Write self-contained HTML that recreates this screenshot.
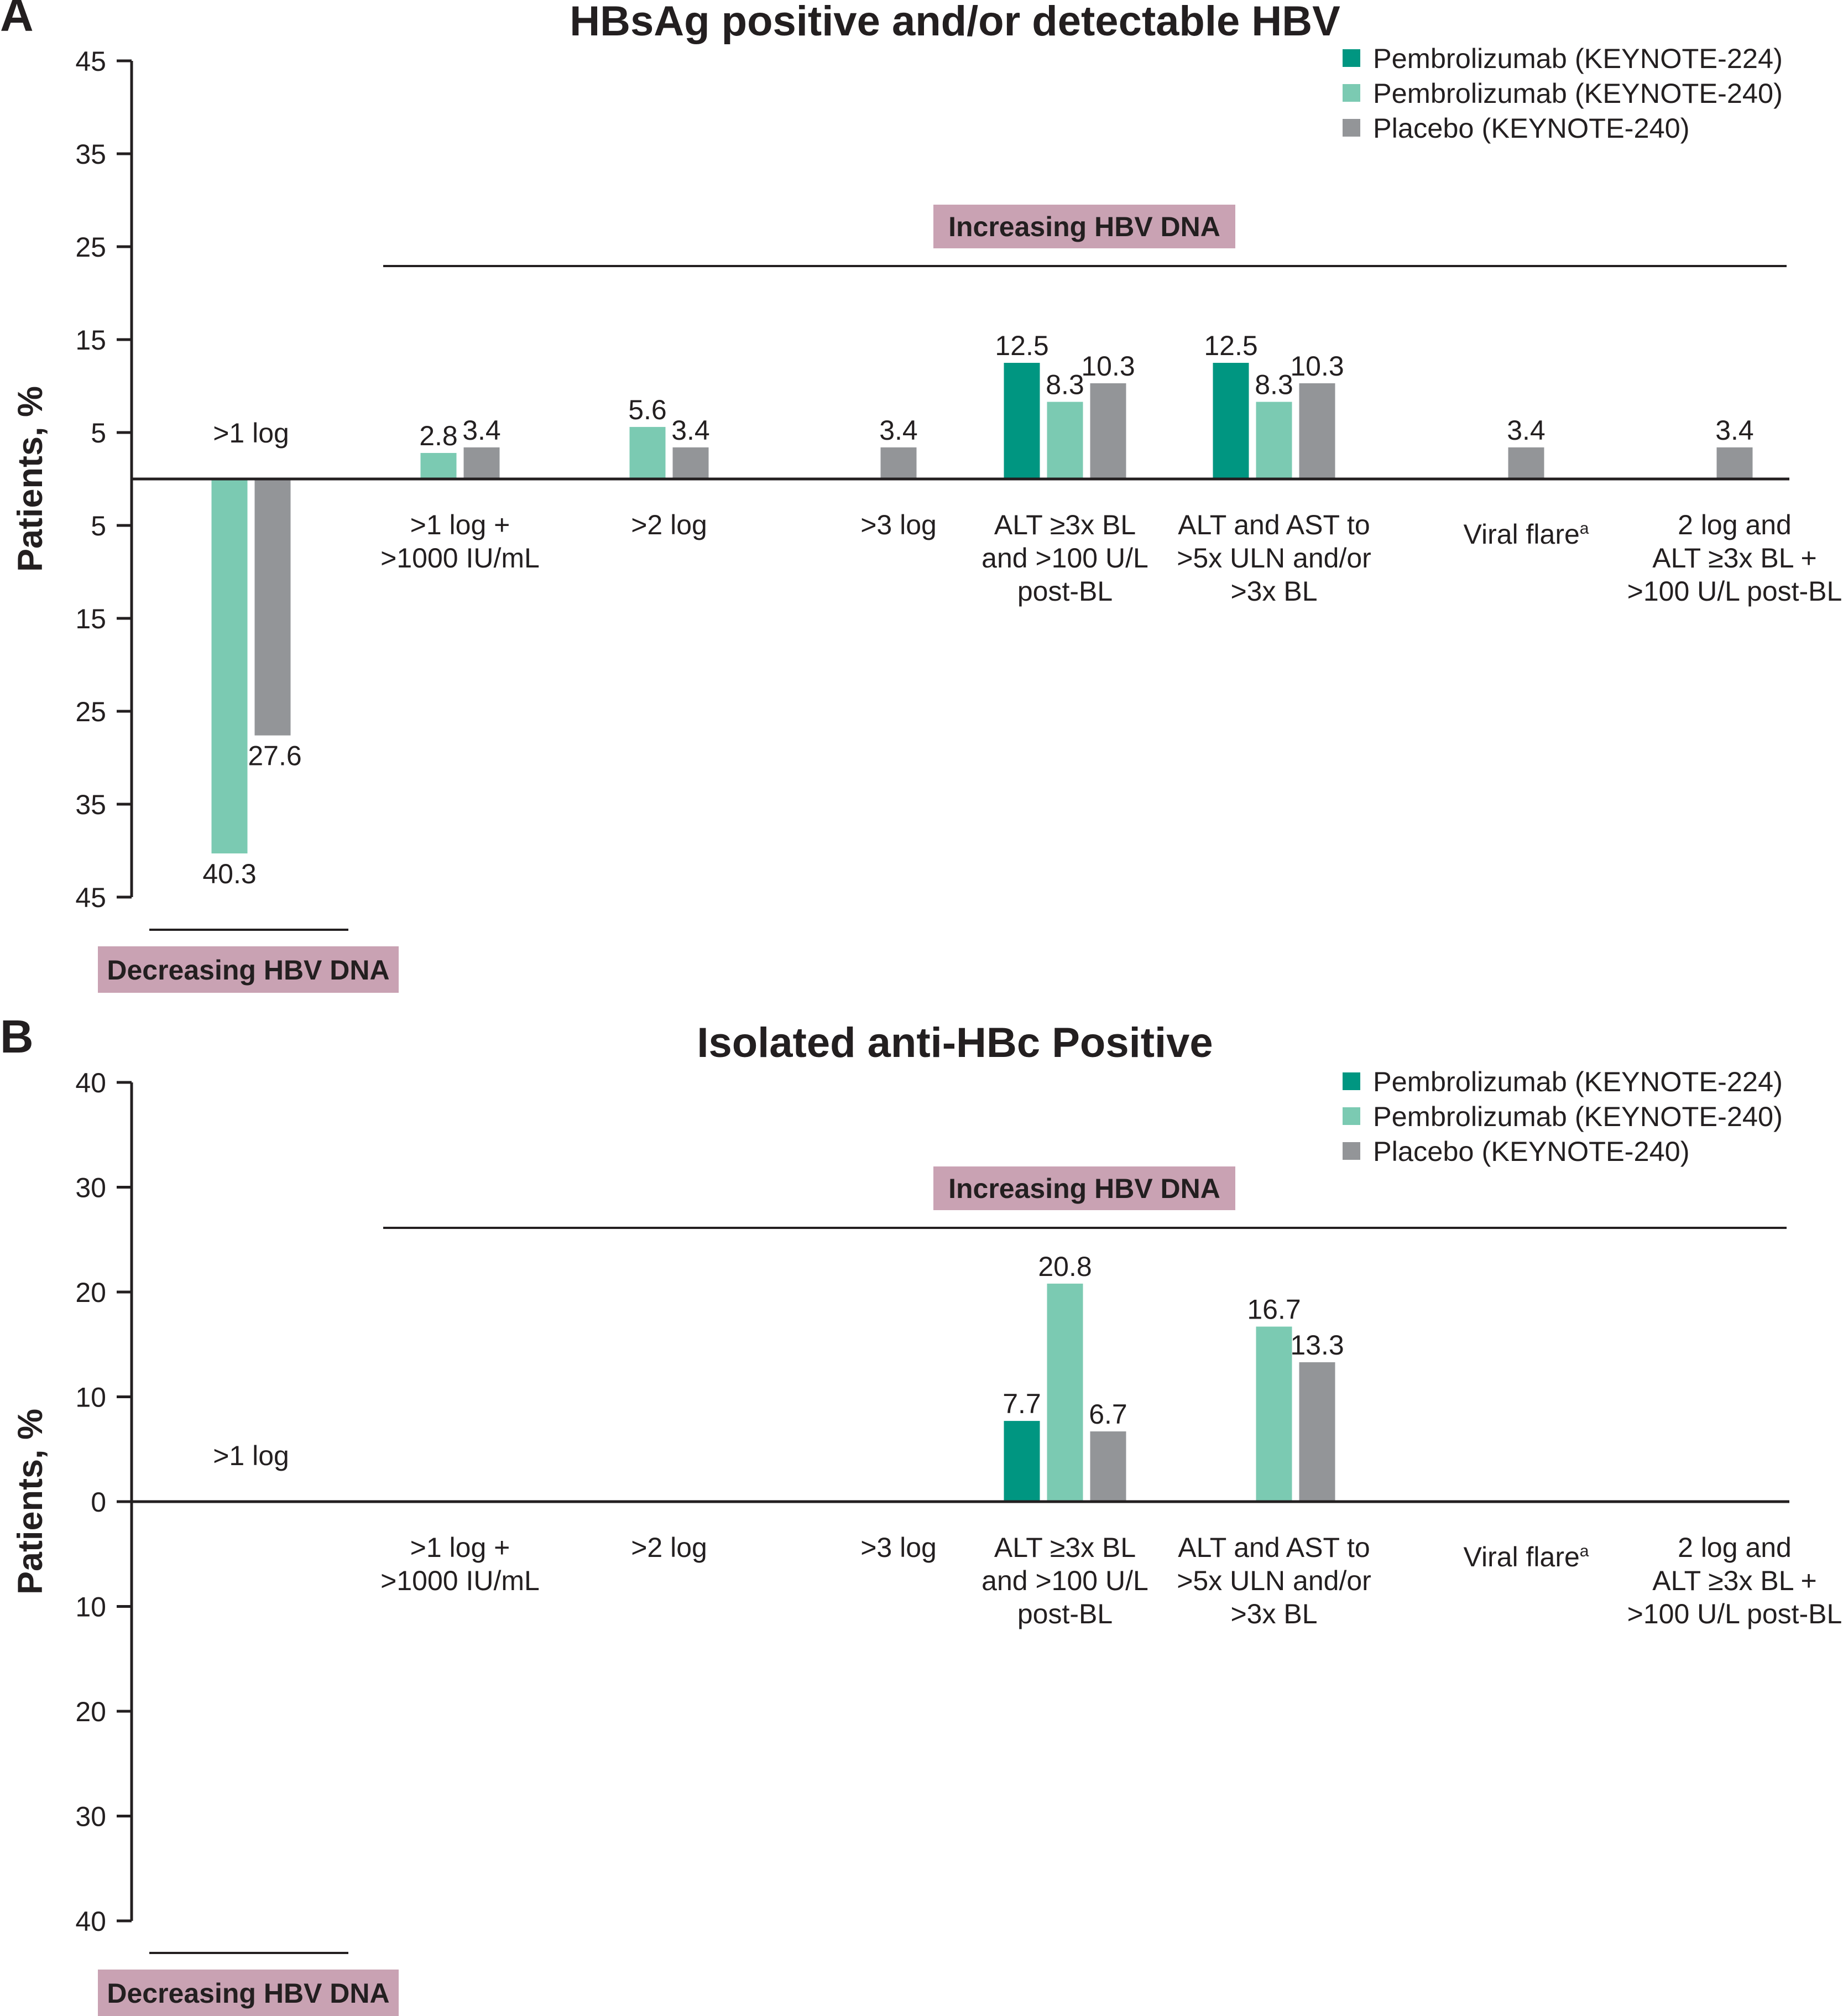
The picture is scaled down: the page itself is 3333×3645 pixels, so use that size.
<!DOCTYPE html>
<html><head><meta charset="utf-8">
<style>
html,body{margin:0;padding:0;background:#fff;}
svg{display:block;font-family:"Liberation Sans",Arial,sans-serif;}
</style></head>
<body>
<svg id="chart" width="3333" height="3645" viewBox="0 0 3333 3645" xmlns="http://www.w3.org/2000/svg"></svg>
<script>
const categories = [[">1 log"], [">1 log +", ">1000 IU/mL"], [">2 log"], [">3 log"], ["ALT \u22653x BL", "and >100 U/L", "post-BL"], ["ALT and AST to", ">5x ULN and/or", ">3x BL"], ["Viral flare"], ["2 log and", "ALT \u22653x BL +", ">100 U/L post-BL"]];
const seriesNames = ["Pembrolizumab (KEYNOTE-224)", "Pembrolizumab (KEYNOTE-240)", "Placebo (KEYNOTE-240)"];
// Panel A (negative = decreasing HBV DNA)
const a224 = [null, null, null, null, 12.5, 12.5, null, null];
const a240 = [-40.3, 2.8, 5.6, null, 8.3, 8.3, null, null];
const aPlacebo = [-27.6, 3.4, 3.4, 3.4, 10.3, 10.3, 3.4, 3.4];
const aTicks = [45, 35, 25, 15, 5, -5, -15, -25, -35, -45];
// Panel B
const b224 = [null, null, null, null, 7.7, null, null, null];
const b240 = [null, null, null, null, 20.8, 16.7, null, null];
const bPlacebo = [null, null, null, null, 6.7, 13.3, null, null];
const bTicks = [40, 30, 20, 10, 0, -10, -20, -30, -40];

const layoutCenters = [454, 832, 1210, 1625, 1926, 2304, 2760, 3137];
const colors = ["#009681", "#7bcab2", "#939598"];
const NS = "http://www.w3.org/2000/svg";
const svg = document.getElementById("chart");
function mk(tag, attrs, parent) {
  const e = document.createElementNS(NS, tag);
  for (const k in attrs) e.setAttribute(k, attrs[k]);
  (parent || svg).appendChild(e);
  return e;
}
function txt(str, attrs, parent) { const t = mk("text", attrs, parent); t.textContent = str; return t; }

function panel(opt) {
  const g = mk("g", {});
  
  
  const y = v => opt.zero - v * opt.unit;
  const L = txt(opt.letter, {x: 0, y: opt.top + 56, "font-size": 84, "font-weight": "bold", fill: "#231f20"}, g);
  
  
  const T = txt(opt.title, {x: 1727, y: opt.top + 64, "font-size": 76, "font-weight": "bold", "text-anchor": "middle", fill: "#231f20"}, g);
  
  
  const top = y(opt.ticks[0]), bot = y(opt.ticks[opt.ticks.length - 1]);
  const ax = mk("line", {x1: 238, x2: 238, y1: top, y2: bot, stroke: "#231f20", "stroke-width": 5}, g);
  
  
  opt.ticks.forEach(t => {
    const tl = mk("line", {x1: 211, x2: 238, y1: y(t), y2: y(t), stroke: "#231f20", "stroke-width": 5}, g);
    
    
    const lb = txt(String(Math.abs(t)), {x: 192, y: y(t) + 18, "font-size": 50, "text-anchor": "end", fill: "#231f20"}, g);
    
    
  });
  const yt = txt("Patients, %", {x: 0, y: 0, "font-size": 63, "font-weight": "bold", "text-anchor": "middle", fill: "#231f20", transform: `translate(76,${opt.zero}) rotate(-90)`}, g);
  
  
  const bw = 65, gap = 13;
  categories.forEach((c, i) => {
    const present = [];
    opt.series.forEach((s, si) => { if (s[i] !== null && s[i] !== undefined) present.push(si); });
    const n = opt.fixedSlots ? 3 : present.length;
    const totalW = n * bw + (n - 1) * gap;
    present.forEach((si, k) => {
      const v = opt.series[si][i];
      const slot = opt.fixedSlots ? si : k;
      const x0 = layoutCenters[i] - totalW / 2 + slot * (bw + gap);
      const y0 = Math.min(y(v), opt.zero), h = Math.abs(y(v) - opt.zero);
      const r = mk("rect", {x: x0, y: y0, width: bw, height: h, fill: colors[si]}, g);
      
      
      const ly = v >= 0 ? y(v) - 14 : y(v) + 54;
      const vl = txt(Math.abs(v).toFixed(1), {x: x0 + bw / 2 + (v < 0 && si === 2 ? 4 : 0), y: ly, "font-size": 50, "text-anchor": "middle", fill: "#231f20"}, g);
      
      
    });
    if (i === 0) {
      const cl = txt(c[0], {x: layoutCenters[i], y: opt.zero - 66, "font-size": 50, "text-anchor": "middle", fill: "#231f20"}, g);
      
      
    } else {
      const off = i === 6 ? 17 : 0;
      const cl = txt("", {x: layoutCenters[i], y: opt.zero + 100 + off, "font-size": 50, "text-anchor": "middle", fill: "#231f20"}, g);
      
      
      c.forEach((line, li) => {
        const ts = mk("tspan", {x: layoutCenters[i], dy: li === 0 ? 0 : 60}, cl);
        ts.textContent = line;
        if (i === 6) { const sup = mk("tspan", {"font-size": 30, dy: -18}, cl); sup.textContent = "a"; }
      });
    }
  });
  const z = mk("line", {x1: 236, x2: 3236, y1: opt.zero, y2: opt.zero, stroke: "#231f20", "stroke-width": 5}, g);
  
  
  const il = mk("line", {x1: 693, x2: 3231, y1: opt.incLine, y2: opt.incLine, stroke: "#231f20", "stroke-width": 4}, g);
  
  
  const ib = mk("rect", {x: 1688, y: opt.incLine - 111, width: 546, height: 79, fill: "#c9a2b3"}, g);
  
  
  const it = txt("Increasing HBV DNA", {x: 1961, y: opt.incLine - 54, "font-size": 50, "font-weight": "bold", "text-anchor": "middle", fill: "#231f20"}, g);
  
  
  const dl = mk("line", {x1: 270, x2: 630, y1: opt.decLine, y2: opt.decLine, stroke: "#231f20", "stroke-width": 4}, g);
  
  
  const db = mk("rect", {x: 177, y: opt.decLine + 30, width: 544, height: 84, fill: "#c9a2b3"}, g);
  
  
  const dt = txt("Decreasing HBV DNA", {x: 449, y: opt.decLine + 90, "font-size": 50, "font-weight": "bold", "text-anchor": "middle", fill: "#231f20"}, g);
  
  
  seriesNames.forEach((s, si) => {
    const ry = opt.legendY + si * 63;
    const sw = mk("rect", {x: 2428, y: ry - 16, width: 32, height: 32, fill: colors[si]}, g);
    
    
    const lt = txt(s, {x: 2483, y: ry + 18, "font-size": 50.5, fill: "#231f20"}, g);
    
    
  });
}
panel({name: "panel-a", letter: "A", title: "HBsAg positive and/or detectable HBV", top: 0, zero: 866, unit: 16.8, ticks: aTicks, series: [a224, a240, aPlacebo], incLine: 481, decLine: 1681, legendY: 105, fixedSlots: false});
panel({name: "panel-b", letter: "B", title: "Isolated anti-HBc Positive", top: 1847, zero: 2715, unit: 18.95, ticks: bTicks, series: [b224, b240, bPlacebo], incLine: 2220, decLine: 3531, legendY: 1955, fixedSlots: true});
</script>
</body></html>
